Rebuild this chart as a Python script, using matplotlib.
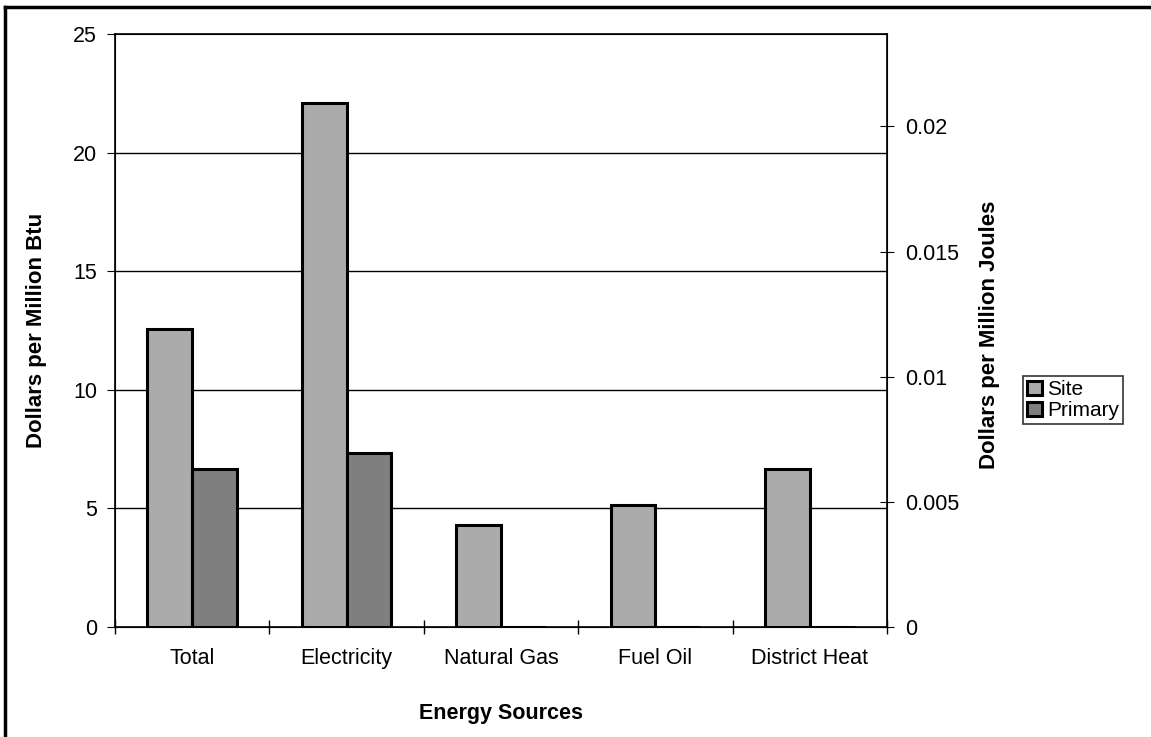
"""
Energy prices by source: site vs primary, dual dollar scales.
"""

import matplotlib.pyplot as plt
import numpy as np
from matplotlib.lines import Line2D

plt.rcParams["font.family"] = ["Liberation Sans", "DejaVu Sans"]

categories = ["Total", "Electricity", "Natural Gas", "Fuel Oil", "District Heat"]
site = [12.55, 22.1, 4.3, 5.15, 6.65]
primary = [6.65, 7.35, 0, 0, 0]
right_ticks = [0, 0.005, 0.01, 0.015, 0.02]
right_labels = ["0", "0.005", "0.01", "0.015", "0.02"]
btu_max = 25
mj_per_mbtu = 1055.056

W, H = 1151, 737
fig = plt.figure(figsize=(W / 100, H / 100), dpi=100)
ax = fig.add_axes([115 / W, 1 - 627 / H, 772 / W, 593 / H])

x = np.arange(len(categories))
w = 0.29
ax.bar(x - w / 2, site, w, color="#ababab", edgecolor="black", linewidth=2.2, label="Site", zorder=3)
ax.bar(x + w / 2, primary, w, color="#7f7f7f", edgecolor="black", linewidth=2.2, label="Primary", zorder=3)

ax.set_xlim(-0.5, len(categories) - 0.5)
ax.set_ylim(0, btu_max)
ax.set_yticks(range(0, 26, 5))
ax.set_xticks(x)
ax.set_xticklabels(categories, fontsize=15.5)
ax.set_xticks(np.arange(-0.5, len(categories), 1), minor=True)
ax.tick_params(axis="x", which="major", length=0, pad=15)
ax.tick_params(axis="x", which="minor", direction="inout", length=10, width=1)
ax.tick_params(axis="y", direction="out", length=6, labelsize=15.5, pad=7)
for yv in range(5, 25, 5):
    ax.axhline(yv, color="black", linewidth=1, zorder=1)
for side in ["top", "right", "left", "bottom"]:
    ax.spines[side].set_linewidth(1.2)

ax2 = ax.twinx()
ax2.set_ylim(0, btu_max / mj_per_mbtu)
ax2.set_yticks(right_ticks)
ax2.set_yticklabels(right_labels)
ax2.tick_params(axis="y", direction="inout", length=10, labelsize=15.5, pad=8)

# axis titles placed directly in figure space
fig.text(501 / W, 1 - 714 / H, "Energy Sources", fontsize=15.5, fontweight="bold",
         ha="center", va="center")
fig.text(37 / W, 1 - 330 / H, "Dollars per Million Btu", fontsize=16, fontweight="bold",
         rotation=90, ha="center", va="center")
fig.text(990 / W, 1 - 335 / H, "Dollars per Million Joules", fontsize=16, fontweight="bold",
         rotation=90, ha="center", va="center")

handles, labels = ax.get_legend_handles_labels()
fig.legend(
    handles, labels,
    loc="upper left", bbox_to_anchor=(1023 / W, 1 - 376 / H),
    fontsize=15, frameon=True, fancybox=False, edgecolor="black",
    handlelength=0.7, handleheight=0.7, handletextpad=0.25, borderpad=0.2,
    labelspacing=0.1, borderaxespad=0,
).get_frame().set_linewidth(1.2)

# outer chart border (top and left visible in the scan)
fig.add_artist(Line2D([5 / W, 1], [1 - 7 / H, 1 - 7 / H], color="black", linewidth=2.5,
                      transform=fig.transFigure))
fig.add_artist(Line2D([5 / W, 5 / W], [0, 1 - 7 / H], color="black", linewidth=2.5,
                      transform=fig.transFigure))

fig.savefig("out.png", dpi=100)
